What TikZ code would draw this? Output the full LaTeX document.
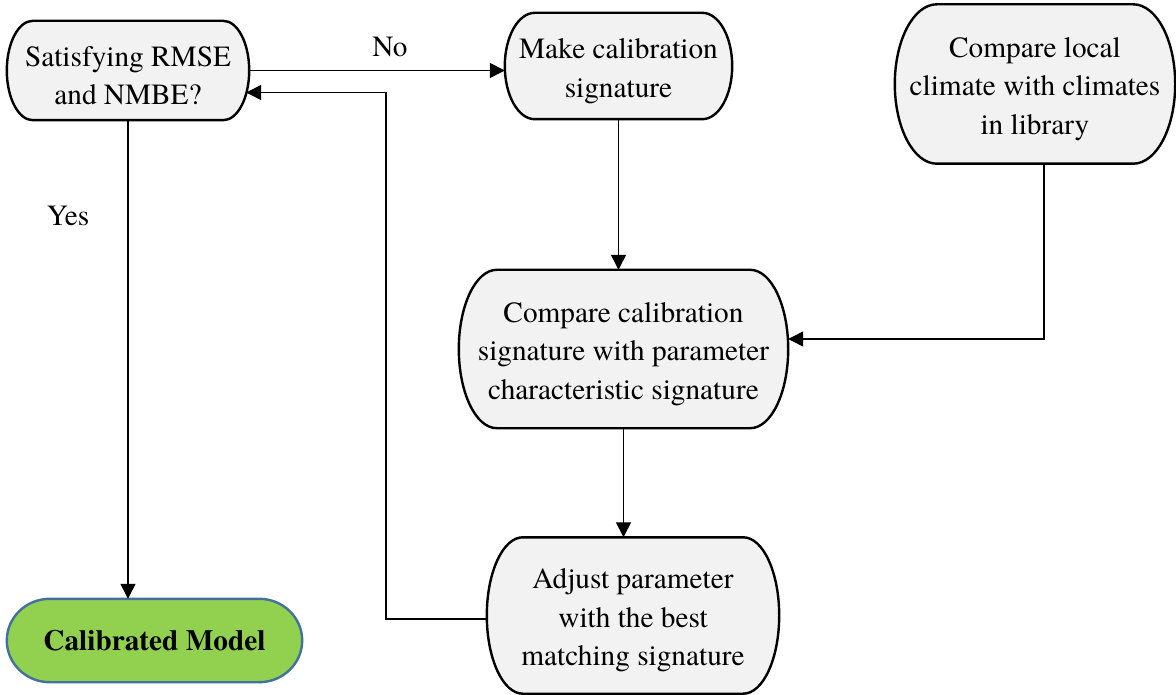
\documentclass[tikz,border=0pt]{standalone}
\usepackage{fontspec}
\IfFontExistsTF{texgyretermes-regular.otf}{%
  \setmainfont{texgyretermes}[Extension=.otf,UprightFont=*-regular,BoldFont=*-bold,ItalicFont=*-italic,BoldItalicFont=*-bolditalic]}{%
  \setmainfont{Liberation Serif}}
\usetikzlibrary{arrows.meta,calc,backgrounds}
\definecolor{boxfill}{HTML}{F2F2F2}
\definecolor{greenfill}{HTML}{92D050}
\definecolor{greenedge}{HTML}{41719C}
\newcommand{\mytopstrut}{\rule{0pt}{30pt}}
\tikzset{
  box/.style={draw=none,inner sep=0pt,align=center,font=\fontsize{29.3}{38.5}\selectfont},
  grayshape/.style={draw=black,line width=2.4pt,fill=boxfill},
  greenshape/.style={draw=greenedge,line width=2.4pt,fill=greenfill},
  arr/.style={draw=black,line width=1.3pt,-{Triangle[length=15pt,width=15pt]}},
  lbl/.style={font=\fontsize{29.3}{38.5}\selectfont,inner sep=0pt},
}
\newcommand{\tshape}[3]{%
  \path[#3] let \p1=(#1.north west), \p2=(#1.south east), \n1={(\y1-\y2)/2} in
    (\x1+#2pt,\y1) -- (\x2-#2pt,\y1)
    arc[start angle=90,end angle=-90,x radius=#2pt,y radius=\n1]
    -- (\x1+#2pt,\y2)
    arc[start angle=270,end angle=90,x radius=#2pt,y radius=\n1] -- cycle;
}
\begin{document}
\begin{tikzpicture}[x=1pt,y=-1pt]
\useasboundingbox (0,0) rectangle (1176,695);
\node[box,minimum width=242pt,minimum height=99pt] (N1) at (128,70.5) {\mytopstrut Satisfying RMSE\\and NMBE?};
\node[box,minimum width=227pt,minimum height=106pt] (N2) at (618.5,66) {\mytopstrut Make calibration\\signature};
\node[box,minimum width=280pt,minimum height=159pt] (N3) at (1035,84) {\mytopstrut Compare local\\climate with climates\\in library};
\node[box,minimum width=329pt,minimum height=158pt] (N4) at (623.5,349) {\mytopstrut Compare calibration\\signature with parameter\\characteristic signature};
\node[box,minimum width=292pt,minimum height=156pt] (N5) at (633,615.5) {\mytopstrut Adjust parameter\\with the best\\matching signature};
\node[box,minimum width=295pt,minimum height=83pt] (N6) at (154.5,640.5) {\textbf{Calibrated Model}};
\begin{scope}[on background layer]
\tshape{N1}{26}{grayshape}
\tshape{N2}{30}{grayshape}
\tshape{N3}{42}{grayshape}
\tshape{N4}{38}{grayshape}
\tshape{N5}{36}{grayshape}
\tshape{N6}{43}{greenshape}
\end{scope}
\coordinate (c3) at (1044,339);
\coordinate (lp) at (386,619);
\coordinate (back) at ($(N1.east)+(-3,22)$);
\draw[arr] (N1.east) -- (N1.east -| N2.west);
\draw[arr] (N2.south) -- (N2.south |- N4.north);
\draw[arr] (N3.south -| c3) |- (c3 -| N4.east);
\draw[arr] (N4.south) -- (N4.south |- N5.north);
\draw[arr] (N5.west |- lp) -- (lp) |- (back);
\draw[arr] (N1.south) -- (N1.south |- N6.north);
\node[lbl] (no) at (390,47) {No};
\node[lbl] (yes) at (68,216) {Yes};
\end{tikzpicture}
\end{document}
